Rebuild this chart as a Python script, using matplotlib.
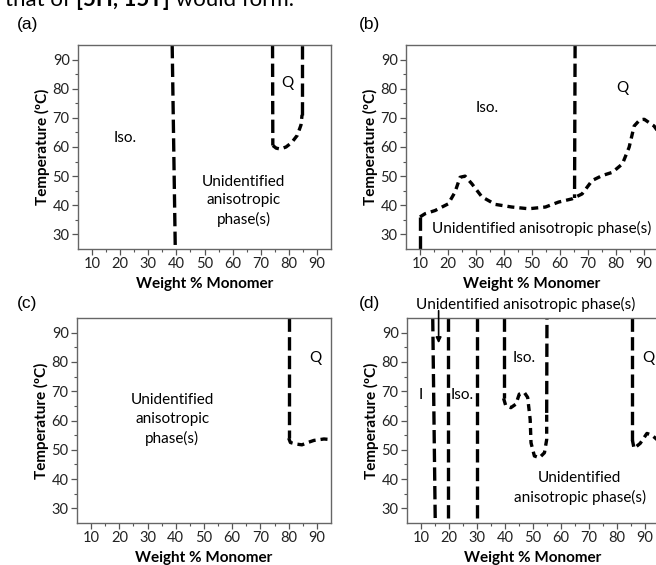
import matplotlib
matplotlib.use('Agg')
import numpy as np
from matplotlib import pyplot as plt

plt.rcParams['font.family'] = ['Lato', 'DejaVu Sans']

# panel (a)
a_iso_x = [38.5, 39.6]
a_iso_y = [95, 25]
a_qleft_x = [74.2, 74.3]
a_qleft_y = [95, 60.5]
a_qcurve_x = [74.3, 75.5, 77, 79, 81, 83, 84.3, 84.7]
a_qcurve_y = [60.5, 59.6, 59.3, 60, 61.5, 64, 67.5, 71]
a_qright_x = [84.7, 84.7]
a_qright_y = [71, 95]

# panel (b)
b_left_x = [10, 10]
b_left_y = [25, 36]
b_curve_x = [10, 11.8, 15.4, 20.1, 22.5, 24.3, 26.1, 28.5, 32.1, 36.9, 42.8, 48.8,
             54.8, 59.5, 64.3, 67.9, 71.5, 75.1, 78.7, 82.3, 84.7, 86.5, 88.5, 90.1,
             93.6, 96]
b_curve_y = [36, 37.1, 38.2, 40.5, 44.5, 49.6, 50, 47.4, 42.9, 40.3, 39.4, 38.8,
             39.4, 41.1, 42.2, 43.9, 48.5, 50.2, 51.3, 54.2, 59.9, 67.2, 69.3, 69.5,
             67.2, 64]
b_q_x = [65.4, 65.2]
b_q_y = [95, 42.5]

# panel (c)
c_q_x = [80, 80]
c_q_y = [95, 54]
c_curve_x = [80, 80.6, 82.4, 84.7, 86.8, 88.9, 92.5, 96]
c_curve_y = [54, 52.5, 52, 51.7, 52.5, 53.2, 53.7, 53.4]

# panel (d)
d_vert_x = [[14.2, 15.1], [19.7, 19.7], [30.1, 30.1]]
d_vert_y = [[95, 25], [95, 25], [95, 25]]
d_isoleft_x = [39.5, 39.5]
d_isoleft_y = [95, 67.6]
d_isocurve_x = [39.5, 40.3, 42.1, 43.9, 45.1, 46.9, 48.1, 49, 49.3, 50.5, 52.3, 54.1, 54.9, 54.9]
d_isocurve_y = [67.6, 65, 64.4, 65.6, 69, 69.6, 67.9, 60.4, 52.4, 47.9, 47.3, 49, 53.5, 62.6]
d_isoright_x = [54.9, 55]
d_isoright_y = [62.6, 95]
d_q_x = [85.5, 85.5]
d_q_y = [95, 53.4]
d_qcurve_x = [85.5, 86.1, 88.3, 90.7, 92.5, 94.3, 96]
d_qcurve_y = [53.4, 50.5, 52.2, 55.6, 55, 53.5, 52.5]

xticks = [10, 20, 30, 40, 50, 60, 70, 80, 90]
yticks = [30, 40, 50, 60, 70, 80, 90]

LONG = (4.0, 1.6)
SHORT = (2.1, 1.5)
LW = 2.4
FS = 11

fig = plt.figure(figsize=(6.56, 5.65), dpi=100)

pos = {'a': [0.1189, 0.5593, 0.3857, 0.3611],
       'b': [0.6189, 0.5593, 0.3841, 0.3611],
       'c': [0.1174, 0.0743, 0.3872, 0.3628],
       'd': [0.6204, 0.0743, 0.3841, 0.3628]}


def setup(ax):
    ax.set_xlim(5, 95)
    ax.set_ylim(25, 95)
    ax.set_xticks(xticks)
    ax.set_yticks(yticks)
    ax.set_xticks(np.arange(15, 95, 10), minor=True)
    ax.set_yticks(np.arange(35, 95, 10), minor=True)
    ax.tick_params(which='major', direction='out', length=4, width=0.9,
                   colors='#555555', labelcolor='#222222', labelsize=10.5, pad=2)
    ax.tick_params(which='minor', direction='out', length=2, width=0.8, colors='#555555')
    for s in ax.spines.values():
        s.set_color('#666666')
        s.set_linewidth(1.0)
    ax.set_xlabel('Weight % Monomer', fontweight='bold', fontsize=11, labelpad=4)
    ax.set_ylabel('Temperature (\u00baC)', fontweight='bold', fontsize=11, labelpad=2)


def dline(ax, x, y, dashes):
    ax.plot(x, y, color='black', lw=LW, dashes=dashes, solid_capstyle='butt',
            dash_capstyle='butt', clip_on=True)


axes = {}
for k in ['a', 'b', 'c', 'd']:
    axes[k] = fig.add_axes(pos[k])
    setup(axes[k])

ax = axes['a']
dline(ax, a_iso_x, a_iso_y, LONG)
dline(ax, a_qleft_x, a_qleft_y, LONG)
dline(ax, a_qcurve_x, a_qcurve_y, SHORT)
dline(ax, a_qright_x, a_qright_y, LONG)
ax.text(21.8, 63, 'Iso.', fontsize=FS, ha='center', va='center')
ax.text(79.3, 81.8, 'Q', fontsize=FS, ha='center', va='center')
ax.text(63.9, 41.5, 'Unidentified\nanisotropic\nphase(s)', fontsize=FS,
        ha='center', va='center', linespacing=1.4)

ax = axes['b']
dline(ax, b_left_x, b_left_y, LONG)
dline(ax, b_curve_x, b_curve_y, SHORT)
dline(ax, b_q_x, b_q_y, LONG)
ax.text(33.9, 73.5, 'Iso.', fontsize=FS, ha='center', va='center')
ax.text(82.3, 80.3, 'Q', fontsize=FS, ha='center', va='center')
ax.text(53.6, 32, 'Unidentified anisotropic phase(s)', fontsize=FS,
        ha='center', va='center')

ax = axes['c']
dline(ax, c_q_x, c_q_y, LONG)
dline(ax, c_curve_x, c_curve_y, SHORT)
ax.text(89.4, 81.3, 'Q', fontsize=FS, ha='center', va='center')
ax.text(38.8, 60.4, 'Unidentified\nanisotropic\nphase(s)', fontsize=FS,
        ha='center', va='center', linespacing=1.4)

ax = axes['d']
for x, y in zip(d_vert_x, d_vert_y):
    dline(ax, x, y, LONG)
dline(ax, d_isoleft_x, d_isoleft_y, LONG)
dline(ax, d_isocurve_x, d_isocurve_y, SHORT)
dline(ax, d_isoright_x, d_isoright_y, LONG)
dline(ax, d_q_x, d_q_y, LONG)
dline(ax, d_qcurve_x, d_qcurve_y, SHORT)
ax.text(9.8, 68.7, 'I', fontsize=FS, ha='center', va='center')
ax.text(24.7, 68.7, 'Iso.', fontsize=FS, ha='center', va='center')
ax.text(46.9, 81.3, 'Iso.', fontsize=FS, ha='center', va='center')
ax.text(91.2, 81.3, 'Q', fontsize=FS, ha='center', va='center')
ax.text(66.7, 36.9, 'Unidentified\nanisotropic phase(s)', fontsize=FS,
        ha='center', va='center', linespacing=1.4)
ax.text(47.5, 99.5, 'Unidentified anisotropic phase(s)', fontsize=FS,
        ha='center', va='center', clip_on=False)
ax.annotate('', xy=(16.3, 86.4), xytext=(16.3, 97.5), annotation_clip=False,
            arrowprops=dict(arrowstyle='-|>', color='black', lw=1.2,
                            mutation_scale=8, shrinkA=0, shrinkB=0))

# panel letters
for lab, x, y in [('(a)', 17, 29), ('(b)', 359, 29), ('(c)', 17, 308), ('(d)', 359, 308)]:
    fig.text(x / 656, 1 - y / 565, lab, fontsize=12.5, family='Liberation Sans',
             ha='left', va='baseline')

# caption text cut at the top of the image
fig.canvas.draw()
r = fig.canvas.get_renderer()
xpos = 5 / 656
ybase = 1 - 5.5 / 565
for s, w in [('that of ', 'normal'), ('[5H, 15T]', 'bold'), (' would form.', 'normal')]:
    t = fig.text(xpos, ybase, s, fontsize=16, fontweight=w, ha='left', va='baseline')
    bb = t.get_window_extent(renderer=r)
    xpos = bb.x1 / fig.bbox.width

plt.savefig('out.png', dpi=100)
